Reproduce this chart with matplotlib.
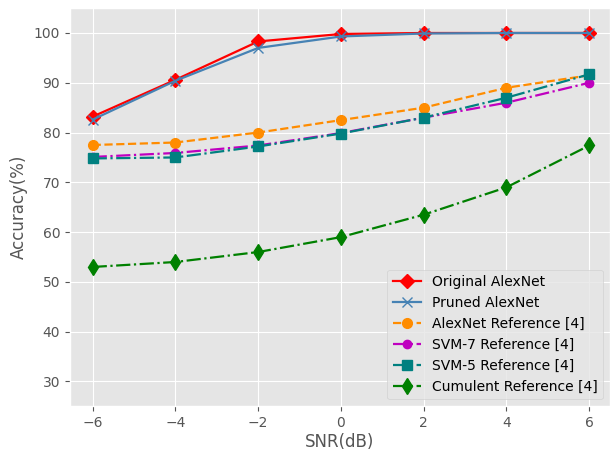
import numpy as np
import matplotlib
matplotlib.use('Agg')
import matplotlib.pyplot as plt

plt.style.use('ggplot')

# ======= 数据 =======
snr = [-6, -4, -2, 0, 2, 4, 6]
original_alexnet = [83.2, 90.6, 98.3, 99.8, 100.0, 100.0, 100.0]
pruned_alexnet = [82.6, 90.4, 97.0, 99.3, 99.9, 100.0, 100.0]
alexnet_ref = [77.5, 78.0, 80.0, 82.5, 85.0, 89.0, 91.5]
svm7_ref = [75.1, 75.9, 77.4, 79.9, 83.0, 86.0, 90.0]
svm5_ref = [74.8, 75.0, 77.2, 79.8, 83.0, 87.0, 91.7]
cumulent_ref = [53.0, 54.0, 56.0, 59.0, 63.5, 69.0, 77.4]

fig = plt.figure(figsize=(6.13, 4.5), dpi=100)
ax = fig.add_axes([0.114, 0.097, 0.881, 0.885])

lw = 1.6
ax.plot(snr, original_alexnet, color='red', marker='D', markersize=7, linewidth=lw, label='Original AlexNet')
ax.plot(snr, pruned_alexnet, color='steelblue', marker='x', markersize=7, linewidth=lw, label='Pruned AlexNet')
ax.plot(snr, alexnet_ref, color='darkorange', marker='o', markersize=7, linestyle='--', linewidth=lw, label='AlexNet Reference [4]')
ax.plot(snr, svm7_ref, color='m', marker='o', markersize=6, linestyle='-.', linewidth=lw, label='SVM-7 Reference [4]')
ax.plot(snr, svm5_ref, color='teal', marker='s', markersize=7, linestyle='-.', linewidth=lw, label='SVM-5 Reference [4]')
ax.plot(snr, cumulent_ref, color='green', marker='d', markersize=8, linestyle='-.', linewidth=lw, label='Cumulent Reference [4]')

ax.set_xlim(-6.55, 6.5)
ax.set_ylim(25, 105)
ax.set_xticks([-6, -4, -2, 0, 2, 4, 6])
ax.set_yticks([30, 40, 50, 60, 70, 80, 90, 100])
ax.set_xlabel('SNR(dB)', fontsize=12, labelpad=2)
ax.set_ylabel('Accuracy(%)', fontsize=12)
ax.tick_params(labelsize=10)
ax.legend(loc='lower right', fontsize=10)

fig.savefig('out.png', dpi=100)
